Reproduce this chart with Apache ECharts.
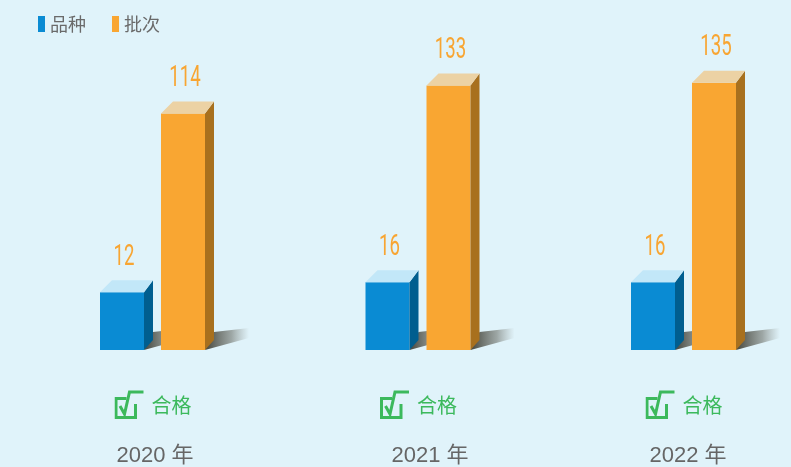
<!DOCTYPE html>
<html>
<head>
<meta charset="utf-8">
<script src="https://cdn.jsdelivr.net/npm/echarts@6/dist/echarts.min.js"></script>
<style>
  html, body { margin: 0; padding: 0; background: #e0f3fa; }
  #main { width: 791px; height: 467px; }
</style>
</head>
<body>
<div id="main"></div>
<script>
var years = ['2020 年', '2021 年', '2022 年'];
var varieties = [12, 16, 16];     // 品种
var batches = [114, 133, 135];    // 批次

var checkIcon = 'data:image/svg+xml;utf8,' + encodeURIComponent(
    '<svg xmlns="http://www.w3.org/2000/svg" width="30" height="30" viewBox="0 0 30 30">' +
    '<path d="M12 8.5 H1.5 V27.5 H21 V14" fill="none" stroke="#3cb95c" stroke-width="3"/>' +
    '<path d="M5.5 16 L10 24 L15 2 H29" fill="none" stroke="#3cb95c" stroke-width="3"/>' +
    '</svg>');

var chart = echarts.init(document.getElementById('main'));

// one 3d-looking bar: floor shadow, front face, side, top and value label
function makeBox(offset, colors, labelColor) {
    return function (params, api) {
        var idx = api.value(0);
        var val = api.value(1);
        var pt = api.coord([idx, val]);
        var base = params.coordSys.y + params.coordSys.height;
        var x0 = pt[0] + offset;
        var x1 = x0 + 44;
        var top = pt[1];
        var dy = 12;
        return {
            type: 'group',
            children: [
                {
                    type: 'polygon',
                    shape: { points: [[x1, base], [x1 + 9, base - 18], [x1 + 44, base - 22], [x1 + 44, base - 12]] },
                    style: {
                        fill: new echarts.graphic.LinearGradient(0, 0, 1, 0, [
                            { offset: 0, color: 'rgba(60,60,50,0.95)' },
                            { offset: 0.6, color: 'rgba(90,90,80,0.5)' },
                            { offset: 1, color: 'rgba(120,120,110,0)' }
                        ])
                    }
                },
                {
                    type: 'rect',
                    shape: { x: x0, y: top, width: 44, height: base - top },
                    style: { fill: colors[0] }
                },
                {
                    type: 'polygon',
                    shape: { points: [[x1, top], [x1 + 9, top - dy], [x1 + 9, base - 10], [x1, base]] },
                    style: { fill: colors[1] }
                },
                {
                    type: 'polygon',
                    shape: { points: [[x0, top], [x1, top], [x1 + 9, top - dy], [x0 + 12, top - dy]] },
                    style: { fill: colors[2] }
                },
                {
                    type: 'text',
                    x: x0 + 24,
                    y: top - dy - 8,
                    scaleX: 0.62,
                    style: {
                        text: String(val),
                        x: 0,
                        y: 0,
                        align: 'center',
                        verticalAlign: 'bottom',
                        fill: labelColor,
                        fontSize: 30,
                        fontWeight: 400,
                        fontFamily: 'Roboto, sans-serif'
                    }
                }
            ]
        };
    };
}

var yearShift = [4, 23, 8];
var richStyles = {
    icon: { width: 30, height: 30, backgroundColor: { image: checkIcon } },
    ok: { color: '#3cb95c', fontSize: 20, padding: [0, 0, 0, 7], lineHeight: 30,
          fontFamily: '"Noto Sans CJK SC", sans-serif' }
};
yearShift.forEach(function (s, i) {
    richStyles['year' + i] = {
        color: '#666', fontSize: 22, lineHeight: 72, padding: [0, 0, 0, s],
        fontFamily: '"Liberation Sans", "Noto Sans CJK SC", sans-serif'
    };
});

var option = {
    backgroundColor: '#e0f3fa',
    animation: false,
    legend: {
        left: 33,
        top: 10,
        icon: 'rect',
        itemWidth: 7,
        itemHeight: 16,
        itemGap: 26,
        textStyle: { color: '#6a6a6a', fontSize: 18, fontFamily: '"Noto Sans CJK SC", sans-serif' },
        data: ['品种', '批次']
    },
    grid: { left: 153, right: 107, top: 20, bottom: 116 },
    xAxis: {
        type: 'category',
        boundaryGap: false,
        data: years,
        axisLine: { show: false },
        axisTick: { show: false },
        splitLine: { show: false },
        axisLabel: {
            margin: 40,
            formatter: function (v, i) {
                return '{icon|}{ok|合格}\n{year' + i + '|' + v + '}';
            },
            rich: richStyles
        }
    },
    yAxis: [
        { type: 'value', show: false, min: -11.2, max: 121.2, splitLine: { show: false } },
        { type: 'value', show: false, min: -46.7, max: 177.6, splitLine: { show: false } }
    ],
    series: [
        {
            name: '品种',
            type: 'custom',
            yAxisIndex: 0,
            itemStyle: { color: '#0a8bd3' },
            renderItem: makeBox(-53, ['#0a8bd3', '#005e8f', '#c2e7f8'], '#f8a532'),
            data: varieties.map(function (v, i) { return [i, v]; })
        },
        {
            name: '批次',
            type: 'custom',
            yAxisIndex: 1,
            itemStyle: { color: '#f9a632' },
            renderItem: makeBox(8, ['#f9a632', '#a8701e', '#ecd2a4'], '#f8a532'),
            data: batches.map(function (v, i) { return [i, v]; })
        }
    ]
};

chart.setOption(option);
</script>
</body>
</html>
